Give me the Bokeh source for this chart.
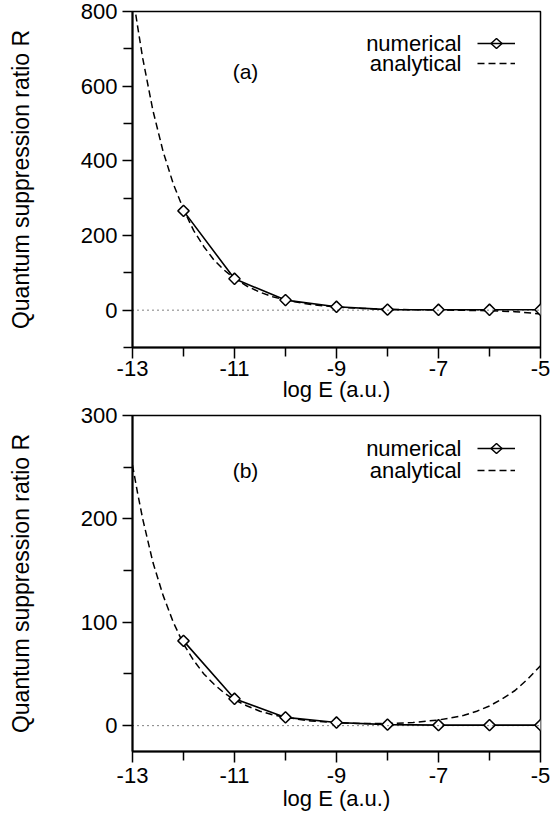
from bokeh.plotting import figure
from bokeh.models import (Range1d, FixedTicker, Span, Label, Legend, LegendItem,
                          PolyAnnotation, CustomJSTickFormatter)
from bokeh.layouts import column
from bokeh.embed import file_html
from bokeh.resources import INLINE

# ---------------- data ----------------
x_ticks = [-13, -11, -9, -7, -5]
x_minor = [-12, -10, -8, -6]

x_num = [-12, -11, -10, -9, -8, -7, -6, -5]
num_a = [266, 84, 27, 9, 1.5, 1, 1, 1]
num_b = [82, 26, 8, 3, 1, 0.5, 0.5, 0.5]

x_an_a = [-13, -12.9, -12.8, -12.6, -12.4, -12.2, -12, -11.8, -11.6, -11.4, -11.2, -11,
          -10.75, -10.5, -10.25, -10, -9.5, -9, -8.5, -8, -7.5, -7, -6.5, -6, -5.5, -5]
an_a = [850, 760, 675, 535, 425, 338, 270, 213, 170, 134, 107, 85,
        64, 48, 36, 27, 15, 8.5, 4.5, 2.5, 1.2, 0.5, -0.5, -1.5, -4, -10]

x_an_b = [-13, -12.9, -12.8, -12.6, -12.4, -12.2, -12, -11.8, -11.6, -11.4, -11.2, -11,
          -10.75, -10.5, -10.25, -10, -9.5, -9, -8.5, -8, -7.5, -7, -6.75, -6.5, -6.25,
          -6, -5.75, -5.5, -5.25, -5]
an_b = [252, 225, 200, 158, 126, 100, 79, 63, 50, 40, 31.5, 25,
        19, 14, 10.5, 8, 4.5, 2.8, 2, 2, 3, 5.5, 7.5, 10, 14,
        19, 26, 34, 45, 58]

y_ticks_a = [0, 200, 400, 600, 800]
y_minor_a = [-100, 100, 300, 500, 700]
y_ticks_b = [0, 100, 200, 300]
y_minor_b = [50, 150, 250]

FONT = "Liberation Sans"


def make_panel(x_an, an, y_num, yr, yt, ym, tag, height, b_bottom,
               leg_y, row_h, tag_y, xstand, xlab_stand):
    p = figure(width=550, height=height, output_backend="svg", toolbar_location=None,
               x_range=Range1d(-13, -5), y_range=Range1d(*yr),
               min_border_left=132, min_border_right=10, min_border_top=11,
               min_border_bottom=b_bottom)
    p.grid.visible = False
    p.outline_line_color = "black"
    p.outline_line_width = 1.5
    p.background_fill_color = "white"
    p.border_fill_color = "white"

    # axes
    p.xaxis.ticker = FixedTicker(ticks=x_ticks, minor_ticks=x_minor)
    p.yaxis.ticker = FixedTicker(ticks=yt, minor_ticks=ym)
    p.xaxis.formatter = CustomJSTickFormatter(code="return tick.toString();")
    for ax in (p.xaxis[0], p.yaxis[0]):
        ax.axis_line_width = 2
        ax.axis_line_color = "black"
        ax.major_tick_line_width = 1.5
        ax.minor_tick_line_width = 1.5
        ax.major_tick_in = 0
        ax.minor_tick_in = 0
        ax.major_label_text_font = FONT
        ax.major_label_text_font_size = "22px"
        ax.major_label_text_color = "black"
        ax.axis_label_text_font = FONT
        ax.axis_label_text_font_style = "normal"
        ax.axis_label_text_color = "black"
    p.xaxis.major_tick_out = 11
    p.xaxis.minor_tick_out = 9
    p.yaxis.major_tick_out = 10
    p.yaxis.minor_tick_out = 9
    p.xaxis.major_label_standoff = xstand
    p.yaxis.major_label_standoff = 5
    p.xaxis.axis_label = "log E (a.u.)"
    p.xaxis.axis_label_text_font_size = "22px"
    p.xaxis.axis_label_standoff = xlab_stand
    p.yaxis.axis_label = "Quantum suppression ratio R"
    p.yaxis.axis_label_text_font_size = "23px"
    p.yaxis.axis_label_standoff = 44

    # zero line
    p.add_layout(Span(location=0, dimension="width", line_color="black",
                      line_width=1, line_dash="1 4"))

    # analytical
    r_an = p.line(x_an, an, line_color="black", line_width=1.5, line_dash="7 4")
    # numerical
    r_nl = p.line(x_num, y_num, line_color="black", line_width=1.6)
    p.scatter(x_num, y_num, marker="square", angle=0.785398, size=8,
              fill_color="white", line_color="black", line_width=1.5)

    # legend keys (text drawn separately, right-aligned left of the keys)
    gx, gw = 345, 38
    leg = Legend(items=[LegendItem(label=" ", renderers=[r_nl]),
                        LegendItem(label=" ", renderers=[r_an])],
                 location=(gx, leg_y), glyph_width=gw, glyph_height=row_h,
                 label_height=row_h, label_width=0, label_standoff=0, spacing=0,
                 padding=0, margin=0, border_line_alpha=0, background_fill_alpha=0,
                 label_text_font_size="6px")
    p.add_layout(leg)
    row1 = leg_y + 2 * row_h - row_h / 2
    row2 = leg_y + row_h / 2
    cx = gx + gw / 2
    p.add_layout(PolyAnnotation(xs=[cx - 5.5, cx, cx + 5.5, cx],
                                ys=[row1, row1 + 5, row1, row1 - 5],
                                xs_units="screen", ys_units="screen",
                                fill_color="white", fill_alpha=1,
                                line_color="black", line_alpha=1, line_width=1.5))

    for txt, yy in (("numerical", row1), ("analytical", row2)):
        p.add_layout(Label(x=gx - 16, y=yy, x_units="screen", y_units="screen", text=txt,
                           text_align="right", text_baseline="middle",
                           text_font=FONT, text_font_size="22px", text_color="black"))
    p.add_layout(Label(x=113, y=tag_y, x_units="screen", y_units="screen", text=tag,
                       text_align="center", text_baseline="middle",
                       text_font=FONT, text_font_size="21px", text_color="black"))
    return p


p1 = make_panel(x_an_a, an_a, num_a, (-100, 800), y_ticks_a, y_minor_a, "(a)",
                404, 57, 274, 20, 276, 2, -2)
p2 = make_panel(x_an_b, an_b, num_b, (-25, 300), y_ticks_b, y_minor_b, "(b)",
                410, 63, 270, 22, 281, 5, 0)

layout = column(p1, p2, spacing=0)
open("out.html", "w").write(file_html(layout, INLINE))
